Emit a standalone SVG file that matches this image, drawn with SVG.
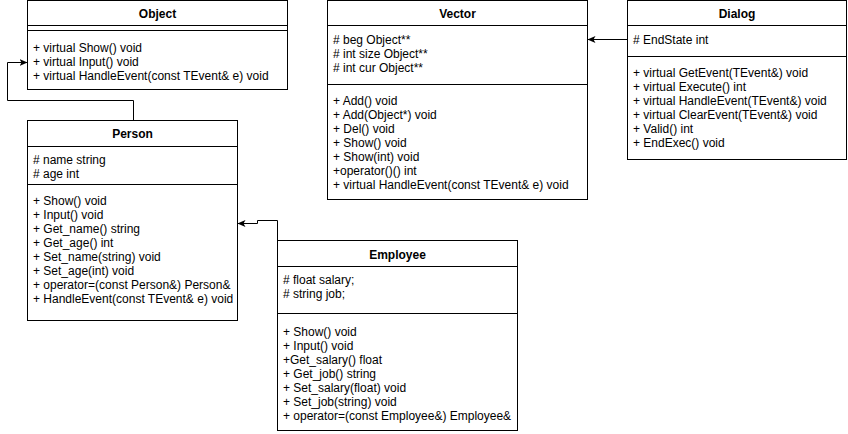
<svg xmlns="http://www.w3.org/2000/svg" width="848" height="434" viewBox="0 0 848 434">
<style>
.box{fill:#fff;stroke:#000;stroke-width:1}
.ln{stroke:#000;stroke-width:1;fill:none}
.t{font-family:"Liberation Sans",Arial,sans-serif;font-size:12px;fill:#000}
.h{font-family:"Liberation Sans",Arial,sans-serif;font-size:12px;font-weight:bold;fill:#000;text-anchor:middle}
.c{stroke:#000;stroke-width:1;fill:none;marker-end:url(#arr)}
</style>
<defs>
<marker id="arr" markerUnits="userSpaceOnUse" viewBox="0 0 8 8" refX="7.5" refY="4" markerWidth="8" markerHeight="8" orient="auto">
<path d="M8,4 L0,0.5 L2,4 L0,7.5 z" fill="#000"/>
</marker>
</defs>
<rect width="848" height="434" fill="#fff"/>

<g id="connectors">
<path class="c" d="M133.5,120 V100.5 H7.5 V62.5 H27"/>
<path class="c" d="M277.5,240 V220.5 H257.5 V223.5 H238"/>
<path class="c" d="M628,39.5 H588"/>
</g>

<g id="Object">
<rect class="box" x="27.5" y="0.5" width="260" height="89"/>
<line class="ln" x1="27.5" y1="25.5" x2="287.5" y2="25.5"/>
<line class="ln" x1="27.5" y1="30.5" x2="287.5" y2="30.5"/>
<text class="h" x="157.5" y="18">Object</text>
<text class="t" x="33" y="52">+ virtual Show() void</text>
<text class="t" x="33" y="66">+ virtual Input() void</text>
<text class="t" x="33" y="80">+ virtual HandleEvent(const TEvent&amp; e) void</text>
</g>

<g id="Person">
<rect class="box" x="27.5" y="120.5" width="210" height="200"/>
<line class="ln" x1="27.5" y1="146.5" x2="237.5" y2="146.5"/>
<line class="ln" x1="27.5" y1="184.5" x2="237.5" y2="184.5"/>
<text class="h" x="132.5" y="138">Person</text>
<text class="t" x="33" y="164"># name string</text>
<text class="t" x="33" y="178"># age int</text>
<text class="t" x="33" y="205">+ Show() void</text>
<text class="t" x="33" y="219">+ Input() void</text>
<text class="t" x="33" y="233">+ Get_name() string</text>
<text class="t" x="33" y="247">+ Get_age() int</text>
<text class="t" x="33" y="261">+ Set_name(string) void</text>
<text class="t" x="33" y="275">+ Set_age(int) void</text>
<text class="t" x="33" y="289">+ operator=(const Person&amp;) Person&amp;</text>
<text class="t" x="33" y="303">+ HandleEvent(const TEvent&amp; e) void</text>
</g>

<g id="Employee">
<rect class="box" x="277.5" y="240.5" width="240" height="190"/>
<line class="ln" x1="277.5" y1="266.5" x2="517.5" y2="266.5"/>
<line class="ln" x1="277.5" y1="313.5" x2="517.5" y2="313.5"/>
<text class="h" x="397.5" y="259">Employee</text>
<text class="t" x="283" y="284"># float salary;</text>
<text class="t" x="283" y="298"># string job;</text>
<text class="t" x="283" y="336">+ Show() void</text>
<text class="t" x="283" y="350">+ Input() void</text>
<text class="t" x="283" y="364">+Get_salary() float</text>
<text class="t" x="283" y="378">+ Get_job() string</text>
<text class="t" x="283" y="392">+ Set_salary(float) void</text>
<text class="t" x="283" y="406">+ Set_job(string) void</text>
<text class="t" x="283" y="420">+ operator=(const Employee&amp;) Employee&amp;</text>
</g>

<g id="Vector">
<rect class="box" x="327.5" y="0.5" width="260" height="199"/>
<line class="ln" x1="327.5" y1="25.5" x2="587.5" y2="25.5"/>
<line class="ln" x1="327.5" y1="84.5" x2="587.5" y2="84.5"/>
<text class="h" x="457.5" y="18">Vector</text>
<text class="t" x="333" y="44"># beg Object**</text>
<text class="t" x="333" y="58"># int size Object**</text>
<text class="t" x="333" y="72"># int cur Object**</text>
<text class="t" x="333" y="105">+ Add() void</text>
<text class="t" x="333" y="119">+ Add(Object*) void</text>
<text class="t" x="333" y="133">+ Del() void</text>
<text class="t" x="333" y="147">+ Show() void</text>
<text class="t" x="333" y="161">+ Show(int) void</text>
<text class="t" x="333" y="175">+operator()() int</text>
<text class="t" x="333" y="189">+ virtual HandleEvent(const TEvent&amp; e) void</text>
</g>

<g id="Dialog">
<rect class="box" x="627.5" y="0.5" width="219" height="159"/>
<line class="ln" x1="627.5" y1="25.5" x2="846.5" y2="25.5"/>
<line class="ln" x1="627.5" y1="56.5" x2="846.5" y2="56.5"/>
<text class="h" x="737" y="18">Dialog</text>
<text class="t" x="633" y="44"># EndState int</text>
<text class="t" x="633" y="77">+ virtual GetEvent(TEvent&amp;) void</text>
<text class="t" x="633" y="91">+ virtual Execute() int</text>
<text class="t" x="633" y="105">+ virtual HandleEvent(TEvent&amp;) void</text>
<text class="t" x="633" y="119">+ virtual ClearEvent(TEvent&amp;) void</text>
<text class="t" x="633" y="133">+ Valid() int</text>
<text class="t" x="633" y="147">+ EndExec() void</text>
</g>
</svg>
